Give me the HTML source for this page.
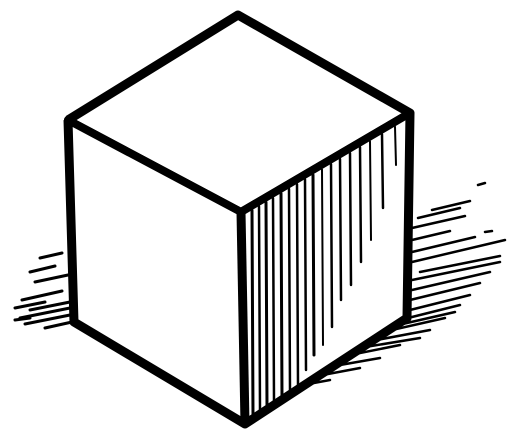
<!DOCTYPE html>
<html>
<head>
<meta charset="utf-8">
<style>
  html,body{margin:0;padding:0;background:#fff;}
  svg{display:block;}
</style>
</head>
<body>
<svg id="cube" width="524" height="437" viewBox="0 0 524 437" xmlns="http://www.w3.org/2000/svg">
  <g id="shadow" stroke="#000" stroke-linecap="round"></g>
  <polygon points="238,15 410,113 241,212 68,120" fill="#fff" stroke="#000" stroke-width="8" stroke-linejoin="round"/>
  <polygon points="68,120 241,212 245,424 74,322" fill="#fff" stroke="#000" stroke-width="8" stroke-linejoin="round"/>
  <polygon points="241,212 410,113 407,318 245,424" fill="#fff" stroke="#000" stroke-width="8" stroke-linejoin="round"/>
  <g id="hatch" stroke="#000" stroke-linecap="round"></g>
  <polyline points="68,120 238,15 410,113 407,318 245,424 74,322 68,120" fill="none" stroke="#000" stroke-width="9" stroke-linejoin="round"/>
  <line x1="241" y1="212" x2="245" y2="424" stroke="#000" stroke-width="9"/>
</svg>
<script>
const NS='http://www.w3.org/2000/svg';
const hatch=document.getElementById('hatch');
// hatch lines: x position and end y
const hx=[252,259,266,273,281,289,297,305,313,322,331,340,350,360,370,382,395];
const hend=[415,411,407,402,398,392,386,370,355,345,327,300,285,262,240,208,165];
const hw=[3,2.5,3,2.5,3,2.5,2.5,2.5,3,2,2.5,2.5,2.5,2.5,2,2.5,2];
for(let i=0;i<hx.length;i++){
  const x=hx[i];
  const t=(x-241)/(410-241);
  const yTop=212-t*99+5;
  const l=document.createElementNS(NS,'line');
  l.setAttribute('x1',x);l.setAttribute('y1',yTop);
  l.setAttribute('x2',x+1);l.setAttribute('y2',hend[i]);
  l.setAttribute('stroke-width',hw[i]);
  
  
  hatch.appendChild(l);
}
const shadow=document.getElementById('shadow');
// left shadow strokes: [x1,y1,x2,y2]
const ls=[[40,258,62,253],[30,272,55,266],[35,282,68,275],[22,300,62,291],[15,308,45,302],[30,310,70,302],[20,318,70,308],[25,324,70,315],[45,328,72,322],[15,320,30,318]];
ls.forEach(s=>{
  const l=document.createElementNS(NS,'line');
  l.setAttribute('x1',s[0]);l.setAttribute('y1',s[1]);
  l.setAttribute('x2',s[2]);l.setAttribute('y2',s[3]);
  l.setAttribute('stroke-width',3);
  
  
  shadow.appendChild(l);
});
// right shadow strokes
const rs=[[478,185,485,183],[432,210,470,201],[418,218,460,208],[412,228,465,216],[412,240,450,231],[485,232,492,231],[412,252,475,237],[412,262,505,240],[420,272,500,256],[412,280,500,262],[412,290,490,272],[410,300,480,283],[410,310,470,295],[400,320,460,305],[385,328,455,312],[370,335,445,318],[350,345,430,330],[335,352,420,338],[315,362,400,345],[300,372,380,358],[280,383,360,368],[265,392,330,380]];
rs.forEach(s=>{
  const l=document.createElementNS(NS,'line');
  l.setAttribute('x1',s[0]);l.setAttribute('y1',s[1]);
  l.setAttribute('x2',s[2]);l.setAttribute('y2',s[3]);
  l.setAttribute('stroke-width',2.5);
  
  
  shadow.appendChild(l);
});
</script>
</body>
</html>
